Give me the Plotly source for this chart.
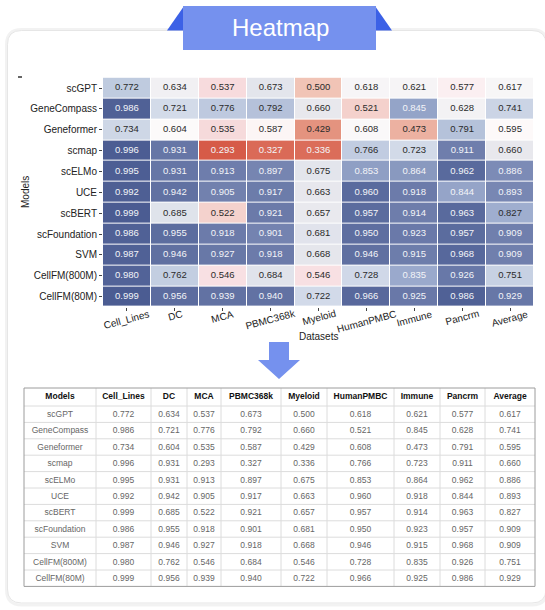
import plotly.graph_objects as go

# ---------------- data ----------------
models = ["scGPT", "GeneCompass", "Geneformer", "scmap", "scELMo", "UCE",
          "scBERT", "scFoundation", "SVM", "CellFM(800M)", "CellFM(80M)"]
datasets = ["Cell_Lines", "DC", "MCA", "PBMC368k", "Myeloid", "HumanPMBC",
            "Immune", "Pancrm", "Average"]
scores = [
    [0.772, 0.634, 0.537, 0.673, 0.500, 0.618, 0.621, 0.577, 0.617],
    [0.986, 0.721, 0.776, 0.792, 0.660, 0.521, 0.845, 0.628, 0.741],
    [0.734, 0.604, 0.535, 0.587, 0.429, 0.608, 0.473, 0.791, 0.595],
    [0.996, 0.931, 0.293, 0.327, 0.336, 0.766, 0.723, 0.911, 0.660],
    [0.995, 0.931, 0.913, 0.897, 0.675, 0.853, 0.864, 0.962, 0.886],
    [0.992, 0.942, 0.905, 0.917, 0.663, 0.960, 0.918, 0.844, 0.893],
    [0.999, 0.685, 0.522, 0.921, 0.657, 0.957, 0.914, 0.963, 0.827],
    [0.986, 0.955, 0.918, 0.901, 0.681, 0.950, 0.923, 0.957, 0.909],
    [0.987, 0.946, 0.927, 0.918, 0.668, 0.946, 0.915, 0.968, 0.909],
    [0.980, 0.762, 0.546, 0.684, 0.546, 0.728, 0.835, 0.926, 0.751],
    [0.999, 0.956, 0.939, 0.940, 0.722, 0.966, 0.925, 0.986, 0.929],
]
banner_title = "Heatmap"
x_title = "Datasets"
y_title = "Models"
table_first_header = "Models"

# ---------------- helpers ----------------
W, H = 545, 610
FONT = "Liberation Sans, Arial, Helvetica, sans-serif"


def px(x):
    return x / W


def py(y):
    return 1 - y / H


def poly(points):
    return "M " + " L ".join(f"{px(a):.5f},{py(b):.5f}" for a, b in points) + " Z"


def rrect(x0, y0, x1, y1, r):
    P = lambda a, b: f"{px(a):.5f},{py(b):.5f}"
    return (f"M {P(x0 + r, y0)} L {P(x1 - r, y0)} Q {P(x1, y0)} {P(x1, y0 + r)} "
            f"L {P(x1, y1 - r)} Q {P(x1, y1)} {P(x1 - r, y1)} "
            f"L {P(x0 + r, y1)} Q {P(x0, y1)} {P(x0, y1 - r)} "
            f"L {P(x0, y0 + r)} Q {P(x0, y0)} {P(x0 + r, y0)} Z")


zmin, zmax = 0.29, 1.0
stops = [
    (0.29, "#d65a47"), (0.34, "#db6f5c"), (0.43, "#e4937f"), (0.47, "#ebaf9f"),
    (0.50, "#f1c4b6"), (0.54, "#f7dde0"), (0.60, "#fdfbfb"), (0.66, "#e8e8ed"),
    (0.72, "#d3dbe9"), (0.78, "#bcc8de"), (0.83, "#9dacce"), (0.86, "#8b9bc1"),
    (0.90, "#7483b0"), (0.94, "#6272a3"), (0.97, "#56679b"), (1.00, "#4b5c92"),
]
colorscale = [[(v - zmin) / (zmax - zmin), c] for v, c in stops]

fig = go.Figure()

fig.add_trace(go.Heatmap(
    z=scores, x=datasets, y=models, zmin=zmin, zmax=zmax,
    colorscale=colorscale, showscale=False, xgap=1, ygap=1, hoverinfo="skip",
))

tx, ty, tt, tc = [], [], [], []
for i, m in enumerate(models):
    for j, d in enumerate(datasets):
        v = scores[i][j]
        tx.append(d)
        ty.append(m)
        tt.append(f"{v:.3f}")
        tc.append("#f3f4f8" if (v >= 0.83 or v <= 0.34) else "#2b2b2b")
fig.add_trace(go.Scatter(
    x=tx, y=ty, mode="text", text=tt,
    textfont=dict(size=9.5, color=tc, family=FONT),
    hoverinfo="skip", showlegend=False,
))

# ---------------- table ----------------
tbl_x0, tbl_x1, tbl_y0 = 24, 535, 388
hdr_h, row_h = 18, 16.4
col_w = [72, 55, 36, 34, 60, 46, 67, 46, 45, 50]
text_lift = 3.3  # plotly places cell text slightly low; lift the table text
tbl_y1 = tbl_y0 + hdr_h + row_h * len(models)
cells_vals = [models] + [[f"{scores[i][j]:.3f}" for i in range(len(models))]
                         for j in range(len(datasets))]
fig.add_trace(go.Table(
    domain=dict(x=[px(tbl_x0), px(tbl_x1)], y=[py(tbl_y1 + 6), py(tbl_y0 - text_lift)]),
    columnwidth=col_w,
    header=dict(values=[table_first_header] + datasets,
                height=hdr_h, align="center", fill_color="rgba(0,0,0,0)",
                line=dict(color="rgba(0,0,0,0)", width=0),
                font=dict(size=8.5, color="#111111", family=FONT, weight="bold")),
    cells=dict(values=cells_vals, height=row_h, align="center", fill_color="rgba(0,0,0,0)",
               line=dict(color="rgba(0,0,0,0)", width=0),
               font=dict(size=8.5, color="#666666", family=FONT)),
))

# ---------------- decoration shapes ----------------
shapes = [
    dict(type="path", path=rrect(6.5, 29.5, 547, 605, 15), xref="paper", yref="paper",
         line=dict(color="rgba(0,0,0,0.05)", width=3), fillcolor="white", layer="below"),
    dict(type="path", path=rrect(7.5, 30.5, 546, 603, 14), xref="paper", yref="paper",
         line=dict(color="#e6e6e6", width=1), fillcolor="white", layer="below"),
    # banner
    dict(type="path", path=poly([(167, 30.6), (183, 7.5), (183, 30.6)]), xref="paper", yref="paper",
         line=dict(width=0), fillcolor="#3c61e6", layer="above"),
    dict(type="path", path=poly([(392, 30.6), (376, 7.5), (376, 30.6)]), xref="paper", yref="paper",
         line=dict(width=0), fillcolor="#3c61e6", layer="above"),
    dict(type="rect", x0=px(183), x1=px(376), y0=py(50), y1=py(6), xref="paper", yref="paper",
         line=dict(width=0), fillcolor="#7591ee", layer="above"),
    # small dash
    dict(type="line", x0=px(18), x1=px(22), y0=py(77), y1=py(77), xref="paper", yref="paper",
         line=dict(color="#333333", width=1.5), layer="above"),
    # arrow
    dict(type="path", path=poly([(269, 342), (289, 342), (289, 360), (300, 360), (279, 379),
                                 (258, 360), (269, 360)]), xref="paper", yref="paper",
         line=dict(width=0), fillcolor="#7591ee", layer="above"),
]
# table grid lines (row and column boundaries derived from the table sizes)
tot_w = sum(col_w)
xb = tbl_x0
for w in col_w[:-1]:
    xb += w * (tbl_x1 - tbl_x0) / tot_w
    shapes.append(dict(type="line", x0=px(xb), x1=px(xb), y0=py(tbl_y0), y1=py(tbl_y1),
                       xref="paper", yref="paper", line=dict(color="#dcdcdc", width=1),
                       layer="above"))
for k in range(len(models)):
    yb = tbl_y0 + hdr_h + k * row_h
    shapes.append(dict(type="line", x0=px(tbl_x0), x1=px(tbl_x1), y0=py(yb), y1=py(yb),
                       xref="paper", yref="paper", line=dict(color="#dcdcdc", width=1),
                       layer="above"))
shapes.append(dict(type="rect", x0=px(tbl_x0), x1=px(tbl_x1), y0=py(tbl_y1), y1=py(tbl_y0),
                   xref="paper", yref="paper", line=dict(color="#9c9c9c", width=1),
                   layer="above"))

annotations = [
    dict(x=px(280), y=py(28), xref="paper", yref="paper", text=banner_title, showarrow=False,
         font=dict(size=24, color="white", family=FONT), xanchor="center", yanchor="middle"),
    dict(x=px(318), y=py(336), xref="paper", yref="paper", text=x_title, showarrow=False,
         font=dict(size=10, color="#222222", family=FONT), xanchor="center", yanchor="middle"),
    dict(x=px(25), y=py(192), xref="paper", yref="paper", text=y_title, showarrow=False,
         textangle=-90, font=dict(size=10, color="#222222", family=FONT),
         xanchor="center", yanchor="middle"),
]
for d in datasets:
    annotations.append(dict(x=d, xref="x", y=py(305.5), yref="paper", text=d, showarrow=False,
                            textangle=-15, xanchor="center", yanchor="top",
                            font=dict(size=10, color="#222222", family=FONT)))

fig.update_layout(
    width=W, height=H, margin=dict(l=0, r=0, t=0, b=0),
    paper_bgcolor="white", plot_bgcolor="white", showlegend=False,
    font=dict(family=FONT),
    xaxis=dict(domain=[px(103), px(534)], range=[-0.5, len(datasets) - 0.5],
               showticklabels=False, ticks="outside", ticklen=3, tickcolor="#444444",
               showgrid=False, zeroline=False, showline=False, fixedrange=True, automargin=False),
    yaxis=dict(domain=[py(307), py(77.6)], range=[len(models) - 0.5, -0.5],
               ticks="outside", ticklen=3, tickcolor="#444444",
               tickfont=dict(size=10, color="#222222", family=FONT),
               showgrid=False, zeroline=False, showline=False, fixedrange=True, automargin=False),
    shapes=shapes, annotations=annotations,
)

fig.write_html("out.html", config={"displayModeBar": False},
               post_script="document.body.style.margin='0';document.body.style.overflow='hidden';")
